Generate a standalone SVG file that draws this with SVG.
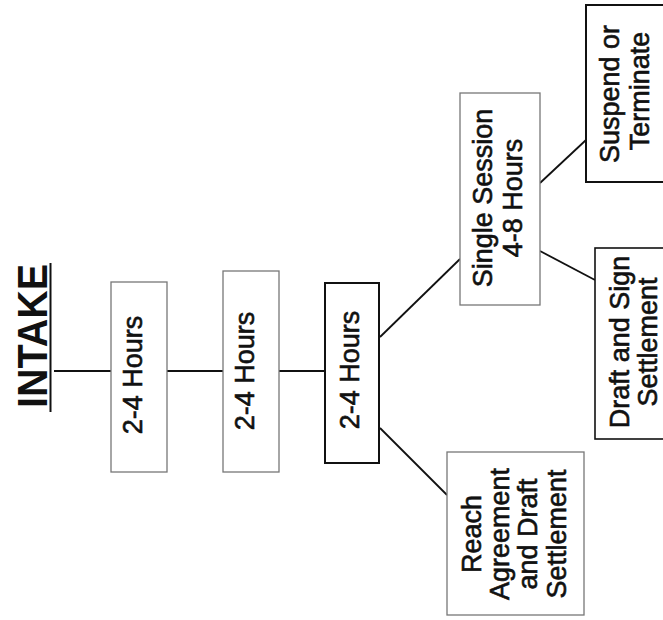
<svg xmlns="http://www.w3.org/2000/svg" width="663" height="620" viewBox="0 0 663 620">
<style>
  .bg { fill: #ffffff; }
  .light { fill: #ffffff; stroke: #777777; stroke-width: 1.3; }
  .dark { fill: #ffffff; stroke: #111111; stroke-width: 2; }
  .conn { stroke: #111111; stroke-width: 1.8; fill: none; }
  .lbl { font-family: "Liberation Sans", Arial, sans-serif; font-size: 27px; fill: #111111; stroke: #111111; stroke-width: 0.6; text-anchor: middle; }
  .title { font-family: "Liberation Sans", Arial, sans-serif; font-size: 42px; font-weight: bold; fill: #111111; text-anchor: middle; }
</style>
<rect class="bg" x="0" y="0" width="663" height="620"/>

<g id="intake">
  <text class="title" transform="translate(47,336) rotate(-90)" x="0" y="0" textLength="144" lengthAdjust="spacingAndGlyphs">INTAKE</text>
  <line x1="50.5" y1="263" x2="50.5" y2="412" stroke="#111111" stroke-width="2"/>
</g>

<g id="connectors">
  <line class="conn" x1="54" y1="371" x2="111" y2="371"/>
  <line class="conn" x1="167" y1="371" x2="223" y2="371"/>
  <line class="conn" x1="279" y1="371" x2="325" y2="371"/>
  <line class="conn" x1="380" y1="337" x2="460" y2="259"/>
  <line class="conn" x1="380" y1="428" x2="447" y2="495"/>
  <line class="conn" x1="540" y1="183" x2="586" y2="140"/>
  <line class="conn" x1="540" y1="251" x2="595" y2="280"/>
</g>

<g id="box1">
  <rect class="light" x="111" y="282" width="56" height="190"/>
  <text class="lbl" transform="translate(142,375) rotate(-90)">2-4 Hours</text>
</g>

<g id="box2">
  <rect class="light" x="223" y="271" width="56" height="201"/>
  <text class="lbl" transform="translate(254,371) rotate(-90)">2-4 Hours</text>
</g>

<g id="box3">
  <rect class="dark" x="325" y="283" width="54" height="180"/>
  <text class="lbl" transform="translate(359,370) rotate(-90)">2-4 Hours</text>
</g>

<g id="single-session">
  <rect class="light" x="460" y="93" width="80" height="212"/>
  <text class="lbl" transform="translate(492,198) rotate(-90)">Single Session</text>
  <text class="lbl" transform="translate(522,198) rotate(-90)">4-8 Hours</text>
</g>

<g id="suspend">
  <rect class="dark" x="586" y="5" width="80" height="177"/>
  <text class="lbl" transform="translate(619,94) rotate(-90)">Suspend or</text>
  <text class="lbl" transform="translate(649,91) rotate(-90)">Terminate</text>
</g>

<g id="draft-sign">
  <rect class="dark" x="595" y="248" width="71" height="191" style="stroke-width:1.6"/>
  <text class="lbl" transform="translate(629,342) rotate(-90)">Draft and Sign</text>
  <text class="lbl" transform="translate(657,342) rotate(-90)">Settlement</text>
</g>

<g id="reach">
  <rect class="light" x="447" y="452" width="137" height="163"/>
  <text class="lbl" transform="translate(481,534) rotate(-90)">Reach</text>
  <text class="lbl" transform="translate(509,534) rotate(-90)">Agreement</text>
  <text class="lbl" transform="translate(537,534) rotate(-90)">and Draft</text>
  <text class="lbl" transform="translate(566,534) rotate(-90)">Settlement</text>
</g>
</svg>
